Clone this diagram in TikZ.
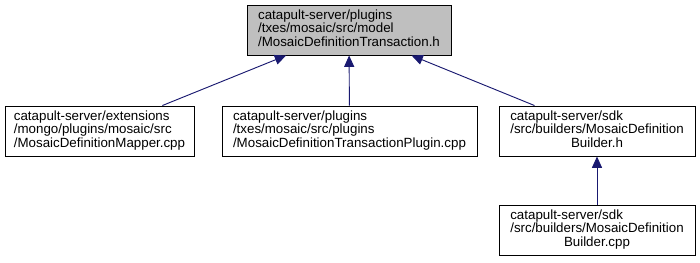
\documentclass[tikz,border=0pt]{standalone}
\usepackage{fontspec}
\setmainfont{Liberation Sans}
\usetikzlibrary{arrows.meta}
\usetikzlibrary{positioning}

\definecolor{edgeblue}{HTML}{191970}
\definecolor{curfill}{HTML}{BFBFBF}

% two left aligned lines, last one centred
\newcommand{\pathlines}[3]{\begin{tabular}{@{}l@{}}#1\\#2\\\multicolumn{1}{@{}c@{}}{#3}\end{tabular}}

\tikzset{
  file/.style={draw=black, line width=0.7pt, fill=white, minimum height=37.5pt,
    inner sep=0pt, font=\fontsize{10}{10}\selectfont},
  current/.style={file, fill=curfill},
  incl/.style={draw=edgeblue, line width=0.7pt,
    -{Triangle[length=8.5pt,width=7.5pt]}},
}

\begin{document}
\begin{tikzpicture}[x=0.75pt, y=-0.75pt]
        \useasboundingbox (0,0) rectangle (700,263);
        \node[current, minimum width=153pt] (header) at (349,30)
            {\pathlines{catapult-server/plugins}{/txes/mosaic/src/model}{/MosaicDefinitionTransaction.h}};
        \node[file, minimum width=141.75pt] (mapper) at (99.5,131)
            {\pathlines{catapult-server/extensions}{/mongo/plugins/mosaic/src}{/MosaicDefinitionMapper.cpp}};
        \node[file, minimum width=191.25pt] (plugin) at (349.5,131)
            {\pathlines{catapult-server/plugins}{/txes/mosaic/src/plugins}{/MosaicDefinitionTransactionPlugin.cpp}};
        \node[file, minimum width=147pt] (builderh) at (597,131)
            {\pathlines{catapult-server/sdk}{/src/builders/MosaicDefinition}{Builder.h}};
        \node[file, minimum width=147pt] (buildercpp) at (597,230)
            {\pathlines{catapult-server/sdk}{/src/builders/MosaicDefinition}{Builder.cpp}};
        \draw[incl] (mapper) -- (header);
        \draw[incl] (plugin) -- (header);
        \draw[incl] (builderh) -- (header);
        \draw[incl] (buildercpp) -- (builderh);
    \end{tikzpicture}
\end{document}
